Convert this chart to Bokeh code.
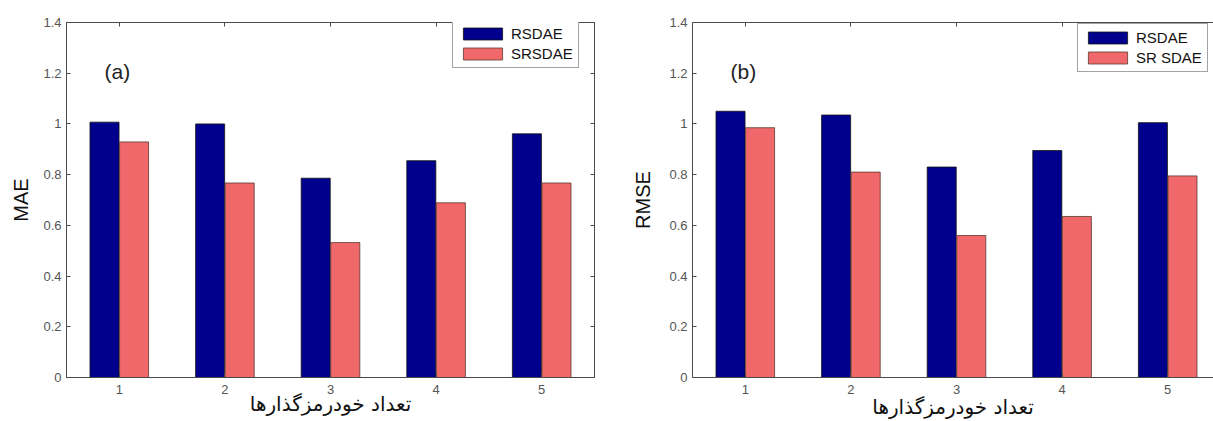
from bokeh.plotting import figure
from bokeh.layouts import row
from bokeh.models import FixedTicker, LinearAxis, Label, Range1d
from bokeh.embed import file_html
from bokeh.resources import INLINE

# ---- data ----
categories = [1, 2, 3, 4, 5]
series_names = ["RSDAE", "SRSDAE"]
series_names_b = ["RSDAE", "SR SDAE"]
mae_rsdae = [1.007, 1.000, 0.786, 0.855, 0.961]
mae_srsdae = [0.929, 0.767, 0.532, 0.689, 0.767]
rmse_rsdae = [1.050, 1.035, 0.830, 0.895, 1.005]
rmse_srsdae = [0.985, 0.810, 0.560, 0.635, 0.795]
ytick_values = [0, 0.2, 0.4, 0.6, 0.8, 1.0, 1.2, 1.4]
ytick_labels = ["0", "0.2", "0.4", "0.6", "0.8", "1", "1.2", "1.4"]
xlabel = "تعداد خودرمزگذارها"
ylabels = ["MAE", "RMSE"]
panel_tags = ["(a)", "(b)"]

BLUE = "#00008c"
PINK = "#f0686a"
FONT = "Liberation Sans"
AX = "#4a4a4a"


def style_axis(ax, ticks, labels=None, show_labels=True):
    ax.ticker = FixedTicker(ticks=ticks)
    if labels is not None:
        ax.major_label_overrides = {t: l for t, l in zip(ticks, labels)}
    ax.major_tick_in = 4
    ax.major_tick_out = 0
    ax.minor_tick_in = 0
    ax.minor_tick_out = 0
    ax.axis_line_color = AX
    ax.major_tick_line_color = AX
    ax.major_label_text_font = FONT
    ax.major_label_text_font_size = "13px"
    ax.major_label_text_color = "#555555"
    if not show_labels:
        ax.major_label_text_font_size = "1px"
        ax.major_label_text_color = None
        ax.major_label_standoff = 0


def make_panel(vals1, vals2, names, ylabel, tag, width, x_end, mleft, mright,
               frame_bottom_px, ylab_standoff, xlab_standoff, full_box):
    p = figure(width=width, height=421, x_range=Range1d(0.5, x_end), y_range=Range1d(0, 1.4),
               output_backend="svg", toolbar_location=None,
               min_border_left=mleft, min_border_right=mright,
               min_border_top=22, min_border_bottom=421 - frame_bottom_px)
    p.xgrid.visible = False
    p.ygrid.visible = False
    p.background_fill_color = "white"
    p.border_fill_color = "white"
    p.outline_line_color = AX if full_box else None

    off = 0.14
    w = 0.275
    x1 = [c - off for c in categories]
    x2 = [c + off for c in categories]
    p.vbar(x=x1, top=vals1, width=w, fill_color=BLUE, line_color="#111111", line_width=0.8,
           legend_label=names[0])
    p.vbar(x=x2, top=vals2, width=w, fill_color=PINK, line_color="#5a3a30", line_width=0.8,
           legend_label=names[1])

    xa = p.xaxis[0]
    style_axis(xa, categories)
    xa.major_label_standoff = 7
    xa.axis_label = xlabel
    xa.axis_label_text_font = "DejaVu Sans"
    xa.axis_label_text_font_size = "20px"
    xa.axis_label_text_font_style = "normal"
    xa.axis_label_text_color = "#111111"
    xa.axis_label_standoff = xlab_standoff

    ya = p.yaxis[0]
    style_axis(ya, ytick_values, ytick_labels)
    ya.major_label_standoff = 5
    ya.axis_label = ylabel
    ya.axis_label_text_font = FONT
    ya.axis_label_text_font_size = "20px"
    ya.axis_label_text_font_style = "normal"
    ya.axis_label_text_color = "#111111"
    ya.axis_label_standoff = ylab_standoff

    top = LinearAxis()
    style_axis(top, categories, show_labels=False)
    p.add_layout(top, "above")
    if full_box:
        right = LinearAxis()
        style_axis(right, ytick_values, show_labels=False)
        p.add_layout(right, "right")

    p.add_layout(Label(x=0.86, y=1.205, text=tag, text_font=FONT, text_font_size="21px",
                       text_color="#222222", text_baseline="middle"))

    lg = p.legend[0]
    lg.border_line_color = AX
    lg.border_line_width = 1
    lg.background_fill_color = "white"
    lg.background_fill_alpha = 1
    lg.padding = 5
    lg.spacing = 3
    lg.margin = 0
    lg.glyph_width = 49
    lg.glyph_height = 15
    lg.label_height = 15
    lg.label_standoff = 4
    lg.label_text_font = FONT
    lg.label_text_font_size = "15px"
    lg.label_text_color = "#111111"
    return p


p1 = make_panel(mae_rsdae, mae_srsdae, series_names, ylabels[0], panel_tags[0],
                width=606, x_end=5.5, mleft=66, mright=12, frame_bottom_px=381,
                ylab_standoff=8, xlab_standoff=-5, full_box=True)
p1.legend[0].location = (386, 309)
p2 = make_panel(rmse_rsdae, rmse_srsdae, series_names_b, ylabels[1], panel_tags[1],
                width=607, x_end=0.5 + 521 / 105.6, mleft=86, mright=0, frame_bottom_px=377,
                ylab_standoff=12, xlab_standoff=-2, full_box=False)
p2.legend[0].location = (385, 305)

layout = row(p1, p2, spacing=0)
open("out.html", "w").write(file_html(layout, INLINE))
